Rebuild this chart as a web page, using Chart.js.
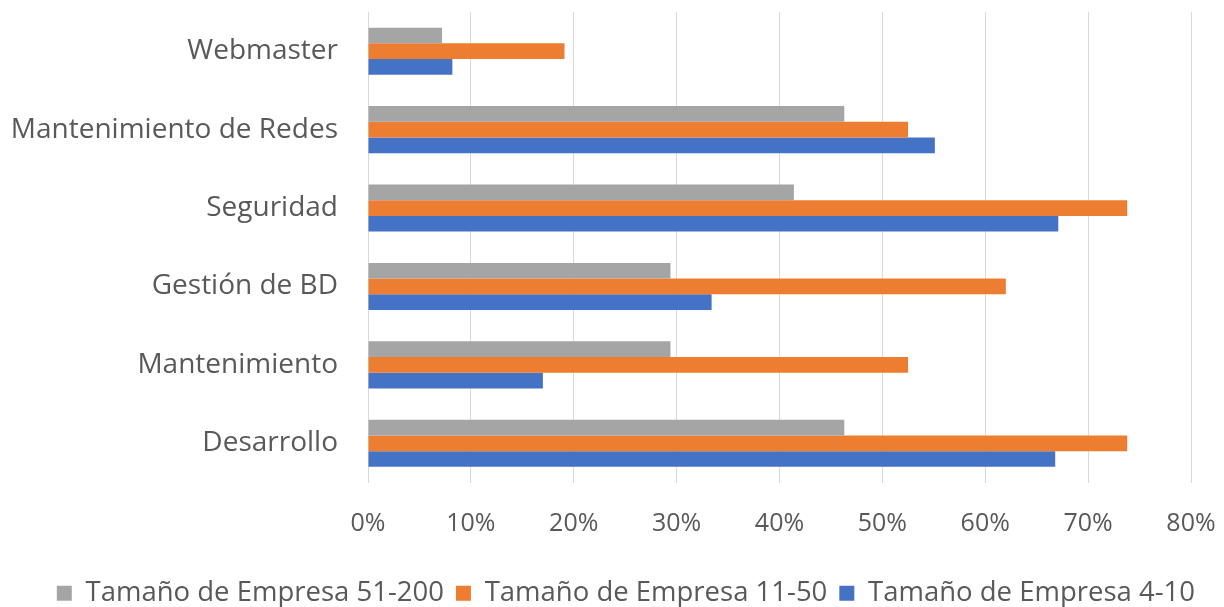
<!DOCTYPE html>
<html>
<head>
<meta charset="utf-8">
<script src="https://cdn.jsdelivr.net/npm/chart.js@4"></script>
<style>
  html, body { margin: 0; padding: 0; background: #fff; }
  #wrap { width: 1224px; height: 607px; }
</style>
</head>
<body>
<div id="wrap"><canvas id="roles_chart"></canvas></div>
<script>
const categories = ["Webmaster", "Mantenimiento de Redes", "Seguridad", "Gestión de BD", "Mantenimiento", "Desarrollo"];
const series_names = ["Tamaño de Empresa 51-200", "Tamaño de Empresa 11-50", "Tamaño de Empresa 4-10"];
const empresa_51_200 = [7.2, 46.3, 41.4, 29.4, 29.4, 46.3];
const empresa_11_50 = [19.1, 52.5, 73.8, 62.0, 52.5, 73.8];
const empresa_4_10 = [8.2, 55.1, 67.1, 33.4, 17.0, 66.8];
const x_ticks = [0, 10, 20, 30, 40, 50, 60, 70, 80];

const text_color = "#595959";
const font_family = "'Open Sans', Lato, sans-serif";

// legend is right aligned; the x scale keeps its own right padding so the plot still ends at x=1191
const roles_chart = new Chart("roles_chart",
{
    type: "bar",
    data:
    {
        labels: categories,
        datasets:
        [
            { label: series_names[0], data: empresa_51_200, backgroundColor: "#a5a5a5" },
            { label: series_names[1], data: empresa_11_50, backgroundColor: "#ed7d31" },
            { label: series_names[2], data: empresa_4_10, backgroundColor: "#4472c4" }
        ]
    },
    options:
    {
        indexAxis: "y",
        animation: false,
        responsive: true,
        maintainAspectRatio: false,
        categoryPercentage: 0.6,
        barPercentage: 1.0,
        layout: { padding: { top: 12, right: 17, bottom: -10, left: 0 } },
        plugins:
        {
            tooltip: { enabled: false },
            legend:
            {
                position: "bottom",
                align: "end",
                labels:
                {
                    color: text_color,
                    font: { family: font_family, size: 27.5 },
                    boxWidth: 15,
                    boxHeight: 15,
                    padding: 12
                }
            }
        },
        scales:
        {
            x:
            {
                min: 0,
                max: 80,
                afterBuildTicks: (scale) => { scale.ticks = x_ticks.map(v => ({ value: v })); },
                afterFit: (scale) => {
                    scale.height = 85;
                    scale.paddingLeft = 0;
                    scale.paddingRight = 33;
                },
                ticks:
                {
                    color: text_color,
                    font: { family: font_family, size: 25 },
                    padding: 26,
                    callback: (v) => v + "%"
                },
                grid: { color: "#d9d9d9", lineWidth: 1, drawTicks: false },
                border: { display: false }
            },
            y:
            {
                afterFit: (scale) => {
                    scale.width = 368;
                    scale.paddingTop = 0;
                    scale.paddingBottom = 0;
                },
                ticks:
                {
                    color: text_color,
                    font: { family: font_family, size: 28 },
                    padding: 22
                },
                grid: { display: false },
                border: { display: false }
            }
        }
    }
});
</script>
</body>
</html>
